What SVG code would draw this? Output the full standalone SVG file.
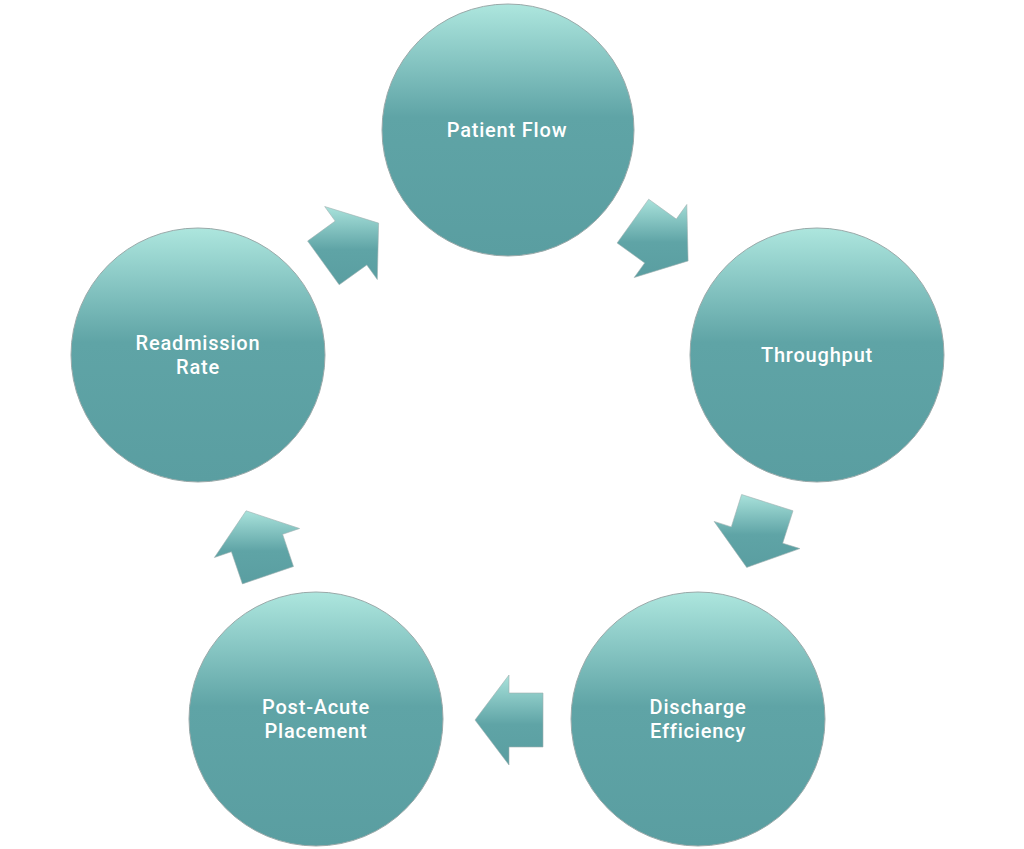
<svg xmlns="http://www.w3.org/2000/svg" width="1024" height="849" viewBox="0 0 1024 849">
<defs>
<linearGradient id="cg" x1="0" y1="0" x2="0" y2="1">
<stop offset="0" stop-color="#ade6de"/>
<stop offset="0.45" stop-color="#5fa4a6"/>
<stop offset="1" stop-color="#5a9ea1"/>
</linearGradient>
<linearGradient id="ag" x1="0" y1="0" x2="0" y2="1">
<stop offset="0" stop-color="#a9e2db"/>
<stop offset="0.55" stop-color="#5fa4a6"/>
<stop offset="1" stop-color="#5a9ea1"/>
</linearGradient>
<style>
.node circle{fill:url(#cg);stroke:#9aa9a9;stroke-width:1}
.node text{font-family:Roboto,"Liberation Sans",sans-serif;font-size:20px;font-weight:500;letter-spacing:0.8px;fill:#ffffff;text-anchor:middle}
.conn polygon{fill:url(#ag);stroke:#a0b0b0;stroke-width:0.6}
</style>
</defs>
<rect width="1024" height="849" fill="#ffffff"/>
<g id="connectors" class="conn">
<polygon points="307.6,241.0 335.2,221.1 324.7,206.5 378.6,223.1 377.3,279.5 366.8,264.9 339.2,284.8"/>
<polygon points="648.7,199.2 676.3,219.1 686.8,204.5 688.1,260.9 634.2,277.5 644.7,262.9 617.1,243.0"/>
<polygon points="793.0,510.8 782.7,543.2 799.9,548.6 746.7,567.4 714.1,521.4 731.3,526.9 741.6,494.5"/>
<polygon points="543,747 509,747 509,765 475,720 509,675 509,693 543,693"/>
<polygon points="242.4,583.9 231.4,551.7 214.4,557.5 246.1,510.8 299.6,528.5 282.6,534.3 293.5,566.5"/>
</g>
<g id="patient-flow" class="node">
<circle cx="508" cy="130" r="126"/>
<text x="507" y="137">Patient Flow</text>
</g>
<g id="throughput" class="node">
<circle cx="817" cy="355" r="127"/>
<text x="817" y="362">Throughput</text>
</g>
<g id="discharge-efficiency" class="node">
<circle cx="698" cy="719" r="127"/>
<text x="698" y="714">Discharge</text>
<text x="698" y="738">Efficiency</text>
</g>
<g id="post-acute-placement" class="node">
<circle cx="316" cy="719" r="127"/>
<text x="316" y="714">Post-Acute</text>
<text x="316" y="738">Placement</text>
</g>
<g id="readmission-rate" class="node">
<circle cx="198" cy="355" r="127"/>
<text x="198" y="350">Readmission</text>
<text x="198" y="374">Rate</text>
</g>
</svg>
